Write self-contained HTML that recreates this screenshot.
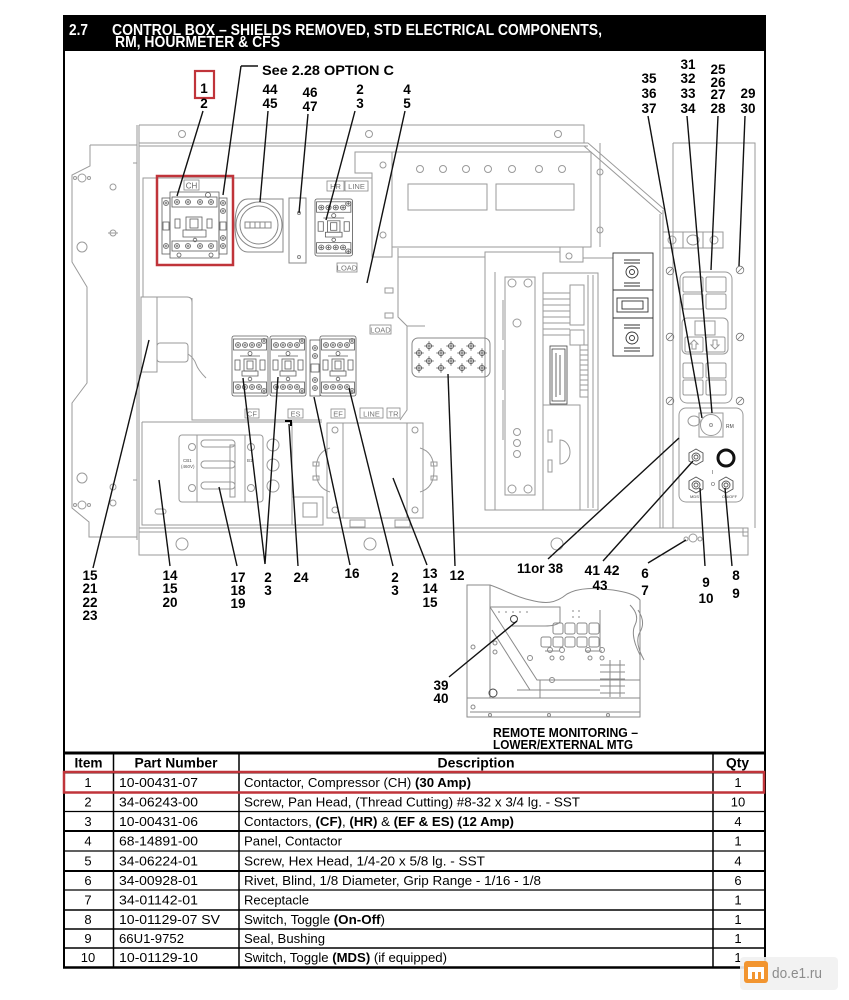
<!DOCTYPE html>
<html><head><meta charset="utf-8">
<style>
html,body{margin:0;padding:0;background:#fff;}
svg{display:block;}
text{font-family:"Liberation Sans",Arial,sans-serif;}
</style></head><body>
<svg width="849" height="1000" viewBox="0 0 849 1000" xmlns="http://www.w3.org/2000/svg">
<defs>
 <g id="sw"><circle r="2.5" fill="none"/><path d="M-1.6,0H1.6M0,-1.6V1.6"/></g>
 <g id="ct" fill="none" stroke="#5e5e5e" stroke-width="0.8">
  <rect x="0" y="1" width="36" height="60" rx="2"/>
  <rect x="1.5" y="4" width="33" height="11"/>
  <rect x="1.5" y="47" width="33" height="11"/>
  <use href="#sw" x="6" y="10"/><use href="#sw" x="13" y="10"/><use href="#sw" x="20" y="10"/><use href="#sw" x="27" y="10"/><use href="#sw" x="32" y="6"/>
  <use href="#sw" x="6" y="52"/><use href="#sw" x="13" y="52"/><use href="#sw" x="20" y="52"/><use href="#sw" x="27" y="52"/><use href="#sw" x="32" y="56"/>
  <circle cx="18" cy="18.5" r="2"/>
  <rect x="3" y="25" width="5" height="10"/><rect x="12" y="24" width="12" height="12"/><rect x="15" y="26" width="6" height="8"/><rect x="28" y="25" width="5" height="10"/>
  <path d="M8,21H28M10,36H26V41H10Z"/>
  <circle cx="18" cy="44" r="1.8"/>
 </g>
 <g id="xh" fill="none" stroke="#555" stroke-width="0.8"><circle r="2.6"/><path d="M-4.8,0H4.8M0,-4.8V4.8"/></g>
 <g id="sc" fill="none" stroke="#777" stroke-width="0.8"><circle r="3.8"/><path d="M-2.6,2.6L2.6,-2.6"/></g>
</defs>

<!-- Header bar -->
<rect x="63" y="15" width="703" height="36" fill="#000"/>
<text x="69" y="35" fill="#fff" font-weight="bold" font-size="15.5" textLength="19" lengthAdjust="spacingAndGlyphs">2.7</text>
<text x="112" y="35" fill="#fff" font-weight="bold" font-size="15.5" textLength="490" lengthAdjust="spacingAndGlyphs">CONTROL BOX – SHIELDS REMOVED, STD ELECTRICAL COMPONENTS,</text>
<text x="115" y="47" fill="#fff" font-weight="bold" font-size="15.5" textLength="165" lengthAdjust="spacingAndGlyphs">RM, HOURMETER &amp; CFS</text>

<!-- Frame -->
<line x1="64" y1="15" x2="64" y2="968" stroke="#000" stroke-width="2"/>
<line x1="765" y1="15" x2="765" y2="968" stroke="#000" stroke-width="2"/>

<!-- ========== DRAWING ========== -->
<g fill="none" stroke="#9a9a9a" stroke-width="1">
 <path d="M90,145H137M90,145V166L72,175V262L87,287V383L72,403V508L89,522V537H137"/>
 <circle cx="82" cy="178" r="4"/><circle cx="75" cy="178" r="1.5"/><circle cx="89" cy="178" r="1.5"/>
 <circle cx="113" cy="187" r="3"/>
 <circle cx="113" cy="233" r="3"/><path d="M108,233H118"/>
 <circle cx="82" cy="247" r="5"/>
 <circle cx="82" cy="478" r="5"/>
 <circle cx="113" cy="487" r="3"/>
 <circle cx="82" cy="505" r="4"/><circle cx="75" cy="505" r="1.5"/><circle cx="89" cy="505" r="1.5"/>
 <circle cx="113" cy="503" r="3"/>
 <path d="M133,163h4M133,480h4"/>
 <path d="M137,125V540M139,125V528M139,125H584V143M139,143H588M139,146H588"/>
 <circle cx="182" cy="134" r="3.5"/><circle cx="369" cy="134" r="3.5"/><circle cx="558" cy="134" r="3.5"/>
 <path d="M588,143L665,210M584,146L662,214"/>
 <path d="M663,210V528M673,143V528M673,143H755V528M660,214V528"/>
 <path d="M600,143V247"/>
 <circle cx="600" cy="172" r="3"/><circle cx="600" cy="230" r="3"/>
 <path d="M139,528H748V555H139V528M139,532H748M743,528V536H748"/>
 <circle cx="182" cy="544" r="6"/><circle cx="370" cy="544" r="6"/><circle cx="557" cy="544" r="6"/>
 <circle cx="686" cy="539" r="2"/><circle cx="693" cy="538" r="4"/><circle cx="700" cy="539" r="2"/>
 <path d="M143,297V178H372M192,298V420H322M398,248V317L407,326V410L400,420"/>
 <path d="M355,152H392V257H372V173H355Z"/>
 <circle cx="383" cy="165" r="3"/><circle cx="383" cy="235" r="3"/>
 <rect x="392" y="152" width="199" height="95"/>
 <circle cx="420" cy="169" r="3.5"/><circle cx="443" cy="169" r="3.5"/><circle cx="466" cy="169" r="3.5"/><circle cx="488" cy="169" r="3.5"/><circle cx="512" cy="169" r="3.5"/><circle cx="539" cy="169" r="3.5"/><circle cx="562" cy="169" r="3.5"/>
 <rect x="408" y="184" width="79" height="26"/><rect x="496" y="184" width="78" height="26"/>
 <rect x="385" y="288" width="8" height="5"/><rect x="385" y="313" width="8" height="5"/>
 <path d="M407,326L425,326M398,257H485V272M485,257V252H560V247H583V258H613M560,252V262H583V258"/>
 <circle cx="569" cy="256" r="3"/>
 <path d="M485,272V510H598M495,272V510"/>
 <rect x="505" y="277" width="30" height="218"/>
 <circle cx="512" cy="283" r="4"/><circle cx="528" cy="283" r="4"/><circle cx="512" cy="489" r="4"/><circle cx="528" cy="489" r="4"/>
 <circle cx="517" cy="323" r="4"/><circle cx="517" cy="432" r="3.5"/><circle cx="517" cy="443" r="3.5"/><circle cx="517" cy="454" r="3.5"/>
 <path d="M503,300v40M503,350v40M503,400v40"/>
 <rect x="543" y="273" width="55" height="237"/>
 <path d="M543,293H570M543,299H570M543,305H570M543,311H570M543,317H570M543,323H570M543,329H570M543,335H570"/>
 <rect x="570" y="285" width="14" height="40"/><rect x="570" y="330" width="14" height="15"/>
 <rect x="580" y="345" width="8" height="52"/>
 <path d="M580,350h8M580,355h8M580,360h8M580,365h8M580,370h8M580,375h8M580,380h8M580,385h8M580,390h8"/>
 <path d="M543,405H580V510M588,275V508M593,275V508"/>
 <rect x="548" y="430" width="4" height="12"/><rect x="548" y="460" width="4" height="12"/>
 <path d="M560,440a10,12 0 0 1 0,24Z"/>
 <rect x="663" y="232" width="60" height="16"/>
 <path d="M683,232V248M703,232V248"/>
 <circle cx="672" cy="240" r="4"/><ellipse cx="693" cy="240" rx="6" ry="5"/><circle cx="714" cy="240" r="4"/>
 <rect x="680" y="272" width="52" height="131" rx="7"/>
 <rect x="683" y="277" width="20" height="15" rx="1.5"/><rect x="706" y="277" width="20" height="15" rx="1.5"/>
 <rect x="683" y="294" width="20" height="15" rx="1.5"/><rect x="706" y="294" width="20" height="15" rx="1.5"/>
 <rect x="682" y="318" width="46" height="36" rx="5"/>
 <rect x="695" y="321" width="20" height="14"/>
 <rect x="685" y="337" width="18" height="15" rx="1.5"/><rect x="706" y="337" width="19" height="15" rx="1.5"/>
 <path d="M694,340l-4,4h2v5h4v-5h2z M715,349l-4,-4h2v-5h4v5h2z"/>
 <rect x="683" y="363" width="20" height="15" rx="1.5"/><rect x="706" y="363" width="20" height="15" rx="1.5"/>
 <rect x="683" y="380" width="20" height="15" rx="1.5"/><rect x="706" y="380" width="20" height="15" rx="1.5"/>
 <rect x="679" y="408" width="64" height="94" rx="7"/>
 <rect x="699" y="413" width="24" height="24"/>
 <circle cx="711" cy="425" r="10.5"/><circle cx="711" cy="425" r="1.5"/>
 <ellipse cx="694" cy="421" rx="6" ry="5"/>
</g>
<!-- board label (darker) -->
<g fill="none" stroke="#444" stroke-width="0.8">
 <rect x="550" y="346" width="17" height="58"/>
 <rect x="552" y="349" width="13" height="52"/>
 <path d="M556,353V397M560,355V395"/>
</g>
<g fill="none" stroke="#777" stroke-width="0.8">
 <use href="#sc" x="670" y="271"/><use href="#sc" x="740" y="270"/>
 <use href="#sc" x="670" y="337"/><use href="#sc" x="740" y="337"/>
 <use href="#sc" x="670" y="401"/><use href="#sc" x="740" y="401"/>
</g>
<g fill="none" stroke="#333" stroke-width="0.9">
 <rect x="613" y="253" width="40" height="103"/>
 <path d="M613,290H653M613,318H653"/>
 <circle cx="632" cy="272" r="6"/><circle cx="632" cy="272" r="2.5"/>
 <circle cx="632" cy="338" r="6"/><circle cx="632" cy="338" r="2.5"/>
 <rect x="617" y="298" width="31" height="14"/><rect x="622" y="301" width="21" height="8"/>
 <path d="M624,260h16M624,263h16M624,283h16M624,286h16M624,325h16M624,328h16M624,348h16M624,351h16"/>
</g>
<g fill="none" stroke="#555" stroke-width="0.9">
 <path d="M696,449l7,4v8l-7,4l-7,-4v-8z"/><circle cx="696" cy="457" r="4"/><circle cx="696" cy="457" r="2"/>
 <path d="M696,477l7,4v8l-7,4l-7,-4v-8z"/><circle cx="696" cy="485" r="4"/><circle cx="696" cy="485" r="2"/>
 <path d="M726,477l7,4v8l-7,4l-7,-4v-8z"/><circle cx="726" cy="485" r="4"/><circle cx="726" cy="485" r="2"/>
</g>
<circle cx="726" cy="458" r="8" fill="none" stroke="#111" stroke-width="3"/>
<text x="726" y="428" font-size="5" fill="#444">RM</text>
<text x="690" y="498" font-size="4" fill="#444">MDS</text><text x="722" y="498" font-size="4" fill="#444">ON/OFF</text>
<text x="712" y="474" font-size="5" fill="#444">I</text><text x="711" y="486" font-size="5" fill="#444">O</text>

<rect x="412" y="338" width="78" height="39" rx="6" fill="none" stroke="#888" stroke-width="1"/>
<use href="#xh" x="429" y="346"/><use href="#xh" x="451" y="346"/><use href="#xh" x="471" y="346"/>
<use href="#xh" x="419" y="353"/><use href="#xh" x="441" y="353"/><use href="#xh" x="462" y="353"/><use href="#xh" x="482" y="353"/>
<use href="#xh" x="429" y="361"/><use href="#xh" x="451" y="361"/><use href="#xh" x="471" y="361"/>
<use href="#xh" x="419" y="368"/><use href="#xh" x="441" y="368"/><use href="#xh" x="462" y="368"/><use href="#xh" x="482" y="368"/>

<g fill="none" stroke="#5e5e5e" stroke-width="0.8">
 <rect x="162" y="198" width="8" height="56"/><rect x="219" y="198" width="8" height="56"/>
 <path d="M170,192H219V258H170Z"/>
 <rect x="172" y="197" width="45" height="10"/><rect x="172" y="241" width="45" height="10"/>
 <use href="#sw" x="166" y="203"/><use href="#sw" x="177" y="202"/><use href="#sw" x="188" y="202"/><use href="#sw" x="200" y="202"/><use href="#sw" x="211" y="202"/><use href="#sw" x="223" y="203"/>
 <use href="#sw" x="223" y="211"/>
 <use href="#sw" x="166" y="246"/><use href="#sw" x="177" y="246"/><use href="#sw" x="188" y="246"/><use href="#sw" x="200" y="246"/><use href="#sw" x="211" y="246"/><use href="#sw" x="223" y="246"/>
 <use href="#sw" x="223" y="238"/>
 <circle cx="208" cy="195" r="2.5"/><circle cx="179" cy="255" r="2"/><circle cx="211" cy="255" r="2"/>
 <rect x="175" y="219" width="5" height="9"/><rect x="186" y="217" width="16" height="13"/><rect x="190" y="219" width="8" height="9"/><rect x="207" y="219" width="5" height="9"/>
 <path d="M183,230H206V237H183Z"/><circle cx="195" cy="240" r="1.8"/>
 <rect x="163" y="222" width="6" height="8"/><rect x="220" y="222" width="6" height="8"/>
</g>
<rect x="157" y="176" width="76" height="89" fill="none" stroke="#c0343a" stroke-width="2.5"/>
<rect x="184" y="180" width="15" height="10" fill="none" stroke="#888" stroke-width="0.8"/>
<text x="191.5" y="188.5" font-size="8" fill="#666" text-anchor="middle">CH</text>

<g fill="none" stroke="#888" stroke-width="1">
 <path d="M248,199H283V252H248Q235,252 235,225Q235,199 248,199Z"/>
 <circle cx="259" cy="225" r="23"/><circle cx="259" cy="225" r="19"/>
 <rect x="245" y="222" width="26" height="6"/><path d="M250,222v6M255,222v6M260,222v6M265,222v6"/>
 <rect x="289" y="198" width="17" height="65"/>
 <circle cx="299" cy="213" r="1.5"/><circle cx="299" cy="257" r="1.5"/>
</g>
<use href="#ct" transform="translate(315,198) scale(1.04,0.95)"/>
<g fill="none" stroke="#888" stroke-width="0.8">
 <rect x="327" y="181" width="17" height="10"/><rect x="345" y="181" width="23" height="10"/>
 <rect x="337" y="263" width="20" height="9"/><rect x="370" y="325" width="21" height="9"/>
 <rect x="245" y="409" width="14" height="9"/><rect x="288" y="409" width="15" height="9"/>
 <rect x="331" y="409" width="14" height="9"/><rect x="360" y="408" width="23" height="10"/><rect x="387" y="408" width="13" height="10"/>
</g>
<g font-size="7.5" fill="#777" text-anchor="middle">
 <text x="335.5" y="189">HR</text><text x="356.5" y="189">LINE</text>
 <text x="347" y="270.5">LOAD</text><text x="380.5" y="332.5">LOAD</text>
 <text x="252" y="416.5">CF</text><text x="295.5" y="416.5">ES</text><text x="338" y="416.5">EF</text>
 <text x="371.5" y="416.5">LINE</text><text x="393.5" y="416.5">TR</text>
</g>
<use href="#ct" x="232" y="335"/>
<use href="#ct" x="270" y="335"/>
<use href="#ct" x="320" y="335"/>
<g fill="none" stroke="#5e5e5e" stroke-width="0.8">
 <rect x="310" y="340" width="10" height="56"/>
 <use href="#sw" x="315" y="348"/><use href="#sw" x="315" y="356"/><use href="#sw" x="315" y="380"/><use href="#sw" x="315" y="388"/>
 <rect x="311" y="364" width="8" height="8"/>
</g>

<g fill="none" stroke="#999" stroke-width="1">
 <rect x="141" y="297" width="16" height="75"/>
 <path d="M157,297H187Q192,297 192,302"/>
 <rect x="157" y="343" width="31" height="19" rx="3"/>
 <path d="M188,354q6,4 8,10t10,14"/>
 <path d="M142,422H322M142,422V525H292V422M292,497H323V525H292"/>
 <rect x="303" y="503" width="14" height="14"/>
 <rect x="155" y="509" width="11" height="5" rx="2.5"/>
 <rect x="179" y="435" width="84" height="67" rx="3"/>
 <rect x="197" y="435" width="48" height="67"/>
 <circle cx="192" cy="447" r="3.5"/><circle cx="192" cy="488" r="3.5"/><circle cx="251" cy="447" r="3.5"/><circle cx="251" cy="488" r="3.5"/>
 <rect x="201" y="440" width="34" height="7" rx="3.5"/><rect x="201" y="461" width="34" height="7" rx="3.5"/><rect x="201" y="482" width="34" height="7" rx="3.5"/>
 <rect x="230" y="445" width="5" height="52"/>
 <circle cx="273" cy="445" r="6"/><circle cx="273" cy="465" r="6"/><circle cx="273" cy="486" r="6"/>
 <rect x="327" y="423" width="96" height="95"/>
 <path d="M343,423V518M407,423V518"/>
 <circle cx="335" cy="430" r="3"/><circle cx="335" cy="510" r="3"/><circle cx="415" cy="430" r="3"/><circle cx="415" cy="510" r="3"/>
 <path d="M330,448q-14,4 -14,22t14,22M420,448q14,4 14,22t-14,22"/>
 <rect x="313" y="462" width="6" height="4"/><rect x="313" y="476" width="6" height="4"/><rect x="431" y="462" width="6" height="4"/><rect x="431" y="476" width="6" height="4"/>
 <path d="M350,520h15v7h-15zM395,520h15v7h-15z"/>
</g>
<g font-size="4.5" fill="#555">
 <text x="183" y="462">CB1</text><text x="181" y="468">(460V)</text>
 <text x="247" y="462">B1</text>
</g>
<path d="M285,421H291V426" fill="none" stroke="#000" stroke-width="2"/>

<g fill="none" stroke="#8a8a8a" stroke-width="1">
 <path d="M467,717V585H490C505,590 515,597 530,600C545,604 555,604 567,594C580,587 595,588 613,590C625,592 635,594 640,600V717Z"/>
 <path d="M490,585V698M467,698H640M470,712H640"/>
 <path d="M490,607L537,680H640M492,630L530,690"/>
 <path d="M490,607H560V622Q556,626 545,626H512"/>
 <rect x="553" y="623" width="10" height="11" rx="2"/><rect x="565" y="623" width="10" height="11" rx="2"/><rect x="577" y="623" width="10" height="11" rx="2"/><rect x="589" y="623" width="10" height="11" rx="2"/>
 <rect x="541" y="637" width="10" height="10" rx="2"/><rect x="553" y="637" width="10" height="10" rx="2"/><rect x="565" y="637" width="10" height="10" rx="2"/><rect x="577" y="637" width="10" height="10" rx="2"/><rect x="589" y="637" width="10" height="10" rx="2"/>
 <path d="M600,610V650M545,651H560M585,651H602"/>
 <circle cx="473" cy="647" r="2"/><circle cx="495" cy="643" r="2"/><circle cx="495" cy="652" r="2"/>
 <circle cx="530" cy="658" r="2.5"/><circle cx="550" cy="650" r="2.5"/><circle cx="562" cy="650" r="2.5"/><circle cx="588" cy="650" r="2.5"/><circle cx="602" cy="650" r="2.5"/>
 <circle cx="552" cy="658" r="2"/><circle cx="562" cy="658" r="2"/><circle cx="590" cy="658" r="2"/><circle cx="602" cy="658" r="2"/>
 <path d="M600,665H625M600,672H625M600,679H625M600,686H625M600,693H625M610,660V697M620,660V697"/>
 <path d="M630,605q10,10 5,20t5,30M638,610q8,12 2,22t4,28"/>
 <path d="M517,690H600M540,698V680"/>
 <circle cx="493" cy="693" r="4" stroke="#444"/><circle cx="552" cy="680" r="2.5"/>
 <circle cx="473" cy="707" r="2"/><circle cx="490" cy="715" r="1.5"/><circle cx="549" cy="715" r="1.5"/><circle cx="608" cy="715" r="1.5"/>
 <circle cx="514" cy="619" r="3.5" stroke="#444"/>
 <path d="M498,612h2M505,612h2M512,612h2M519,612h2M526,612h2M572,611h2M578,611h2M572,617h2M578,617h2"/>
</g>

<g stroke="#111" stroke-width="1.4" fill="none">
 <path d="M241,66H258M241,66L223,195"/>
 <path d="M203,111L177,196"/>
 <path d="M268,111L260,202"/>
 <path d="M308,114L299,213"/>
 <path d="M355,111L326,220"/>
 <path d="M405,111L367,283"/>
 <path d="M648,116L702,418"/>
 <path d="M687,116L712,413"/>
 <path d="M718,116L711,270"/>
 <path d="M745,116L739,266"/>
 <path d="M93,568L149,340"/>
 <path d="M170,566L159,480"/>
 <path d="M237,566L219,487"/>
 <path d="M265,564L243,378M265,564L278,377"/>
 <path d="M298,566L289,424"/>
 <path d="M350,565L314,397"/>
 <path d="M393,566L349,388"/>
 <path d="M427,565L393,478"/>
 <path d="M455,566L448,374"/>
 <path d="M548,559L679,438"/>
 <path d="M603,561L693,461"/>
 <path d="M648,563L686,540"/>
 <path d="M705,566L700,488"/>
 <path d="M732,566L725,488"/>
 <path d="M449,677L517,621"/>
</g>

<rect x="195" y="71" width="19" height="27" fill="none" stroke="#c0343a" stroke-width="2.2"/>
<g font-weight="bold" font-size="14" fill="#000">
 <text x="262" y="75" textLength="132" lengthAdjust="spacingAndGlyphs">See 2.28 OPTION C</text>
</g>
<g font-weight="bold" font-size="13.5" fill="#000" text-anchor="middle">
 <text x="204" y="93">1</text><text x="204" y="108">2</text>
 <text x="270" y="94">44</text><text x="270" y="108">45</text>
 <text x="310" y="97">46</text><text x="310" y="111">47</text>
 <text x="360" y="94">2</text><text x="360" y="108">3</text>
 <text x="407" y="94">4</text><text x="407" y="108">5</text>
 <text x="649" y="83">35</text><text x="649" y="98">36</text><text x="649" y="113">37</text>
 <text x="688" y="69">31</text><text x="688" y="83">32</text><text x="688" y="98">33</text><text x="688" y="113">34</text>
 <text x="718" y="74">25</text><text x="718" y="87">26</text><text x="718" y="99">27</text><text x="718" y="113">28</text>
 <text x="748" y="98">29</text><text x="748" y="113">30</text>

 <text x="90" y="580">15</text><text x="90" y="593">21</text><text x="90" y="607">22</text><text x="90" y="620">23</text>
 <text x="170" y="580">14</text><text x="170" y="593">15</text><text x="170" y="607">20</text>
 <text x="238" y="582">17</text><text x="238" y="595">18</text><text x="238" y="608">19</text>
 <text x="268" y="582">2</text><text x="268" y="595">3</text>
 <text x="301" y="582">24</text>
 <text x="352" y="578">16</text>
 <text x="395" y="582">2</text><text x="395" y="595">3</text>
 <text x="430" y="578">13</text><text x="430" y="593">14</text><text x="430" y="607">15</text>
 <text x="457" y="580">12</text>
 <text x="540" y="573" textLength="46" lengthAdjust="spacingAndGlyphs">11or 38</text>
 <text x="602" y="575" textLength="35" lengthAdjust="spacingAndGlyphs">41 42</text>
 <text x="600" y="590">43</text>
 <text x="645" y="578">6</text><text x="645" y="595">7</text>
 <text x="706" y="587">9</text><text x="706" y="603">10</text>
 <text x="736" y="580">8</text><text x="736" y="598">9</text>
 <text x="441" y="690">39</text><text x="441" y="703">40</text>
</g>
<g font-weight="bold" font-size="13" fill="#000">
 <text x="493" y="737" textLength="145" lengthAdjust="spacingAndGlyphs">REMOTE MONITORING –</text>
 <text x="493" y="749" textLength="140" lengthAdjust="spacingAndGlyphs">LOWER/EXTERNAL MTG</text>
</g>

<g stroke="#000" fill="none">
 <line x1="63" y1="753" x2="766" y2="753" stroke-width="3"/>
 <line x1="63" y1="772.5" x2="766" y2="772.5" stroke-width="2"/>
 <line x1="63" y1="792.5" x2="766" y2="792.5" stroke-width="1.2"/>
 <line x1="63" y1="811.5" x2="766" y2="811.5" stroke-width="1.2"/>
 <line x1="63" y1="831" x2="766" y2="831" stroke-width="2"/>
 <line x1="63" y1="851" x2="766" y2="851" stroke-width="1.2"/>
 <line x1="63" y1="871" x2="766" y2="871" stroke-width="2"/>
 <line x1="63" y1="890" x2="766" y2="890" stroke-width="1.2"/>
 <line x1="63" y1="910" x2="766" y2="910" stroke-width="1.5"/>
 <line x1="63" y1="929" x2="766" y2="929" stroke-width="1.5"/>
 <line x1="63" y1="948" x2="766" y2="948" stroke-width="1.5"/>
 <line x1="63" y1="967.5" x2="766" y2="967.5" stroke-width="2.5"/>
 <line x1="113.5" y1="753" x2="113.5" y2="967.5" stroke-width="1.5"/>
 <line x1="239" y1="753" x2="239" y2="967.5" stroke-width="1.5"/>
 <line x1="713" y1="753" x2="713" y2="967.5" stroke-width="1.5"/>
</g>
<rect x="64" y="772" width="700" height="20.5" fill="none" stroke="#c0343a" stroke-width="2.5"/>
<g font-weight="bold" font-size="14" fill="#000" text-anchor="middle">
 <text x="88.5" y="767.5" textLength="28" lengthAdjust="spacingAndGlyphs">Item</text>
 <text x="176" y="767.5" textLength="83" lengthAdjust="spacingAndGlyphs">Part Number</text>
 <text x="476" y="767.5" textLength="77" lengthAdjust="spacingAndGlyphs">Description</text>
 <text x="737.5" y="767.5" textLength="23" lengthAdjust="spacingAndGlyphs">Qty</text>
</g>
<g font-size="13" fill="#000">
 <g text-anchor="middle">
  <text x="88" y="787">1</text><text x="88" y="806.5">2</text><text x="88" y="826">3</text><text x="88" y="845.5">4</text><text x="88" y="865.5">5</text>
  <text x="88" y="885">6</text><text x="88" y="904.5">7</text><text x="88" y="924">8</text><text x="88" y="943">9</text><text x="88" y="962">10</text>
  <text x="738" y="787">1</text><text x="738" y="806.5">10</text><text x="738" y="826">4</text><text x="738" y="845.5">1</text><text x="738" y="865.5">4</text>
  <text x="738" y="885">6</text><text x="738" y="904.5">1</text><text x="738" y="924">1</text><text x="738" y="943">1</text><text x="738" y="962">1</text>
 </g>
 <text x="119" y="787" textLength="79" lengthAdjust="spacingAndGlyphs">10-00431-07</text>
 <text x="119" y="806.5" textLength="79" lengthAdjust="spacingAndGlyphs">34-06243-00</text>
 <text x="119" y="826" textLength="79" lengthAdjust="spacingAndGlyphs">10-00431-06</text>
 <text x="119" y="845.5" textLength="79" lengthAdjust="spacingAndGlyphs">68-14891-00</text>
 <text x="119" y="865.5" textLength="79" lengthAdjust="spacingAndGlyphs">34-06224-01</text>
 <text x="119" y="885" textLength="79" lengthAdjust="spacingAndGlyphs">34-00928-01</text>
 <text x="119" y="904.5" textLength="79" lengthAdjust="spacingAndGlyphs">34-01142-01</text>
 <text x="119" y="924" textLength="101" lengthAdjust="spacingAndGlyphs">10-01129-07 SV</text>
 <text x="119" y="943" textLength="65" lengthAdjust="spacingAndGlyphs">66U1-9752</text>
 <text x="119" y="962" textLength="79" lengthAdjust="spacingAndGlyphs">10-01129-10</text>

 <text x="244" y="787" textLength="227" lengthAdjust="spacingAndGlyphs">Contactor, Compressor (CH) <tspan font-weight="bold">(30 Amp)</tspan></text>
 <text x="244" y="806.5" textLength="336" lengthAdjust="spacingAndGlyphs">Screw, Pan Head, (Thread Cutting) #8-32 x 3/4 lg. - SST</text>
 <text x="244" y="826" textLength="270" lengthAdjust="spacingAndGlyphs">Contactors, <tspan font-weight="bold">(CF)</tspan>, <tspan font-weight="bold">(HR)</tspan> &amp; <tspan font-weight="bold">(EF &amp; ES) (12 Amp)</tspan></text>
 <text x="244" y="845.5" textLength="98" lengthAdjust="spacingAndGlyphs">Panel, Contactor</text>
 <text x="244" y="865.5" textLength="241" lengthAdjust="spacingAndGlyphs">Screw, Hex Head, 1/4-20 x 5/8 lg. - SST</text>
 <text x="244" y="885" textLength="297" lengthAdjust="spacingAndGlyphs">Rivet, Blind, 1/8 Diameter, Grip Range - 1/16 - 1/8</text>
 <text x="244" y="904.5" textLength="65" lengthAdjust="spacingAndGlyphs">Receptacle</text>
 <text x="244" y="924" textLength="141" lengthAdjust="spacingAndGlyphs">Switch, Toggle <tspan font-weight="bold">(On-Off</tspan>)</text>
 <text x="244" y="943" textLength="81" lengthAdjust="spacingAndGlyphs">Seal, Bushing</text>
 <text x="244" y="962" textLength="203" lengthAdjust="spacingAndGlyphs">Switch, Toggle <tspan font-weight="bold">(MDS)</tspan> (if equipped)</text>
</g>

<rect x="740" y="957" width="98" height="33" rx="4" fill="#f1f1f1" opacity="0.9"/>
<rect x="744" y="961" width="24" height="22" rx="3" fill="#f29530"/>
<path d="M748,967H764V979H761V972H758V979H755V972H752V979H748Z" fill="#fff"/>
<text x="772" y="978" font-size="15" fill="#8c8c8c" textLength="50" lengthAdjust="spacingAndGlyphs">do.e1.ru</text>
</svg>
</body></html>
